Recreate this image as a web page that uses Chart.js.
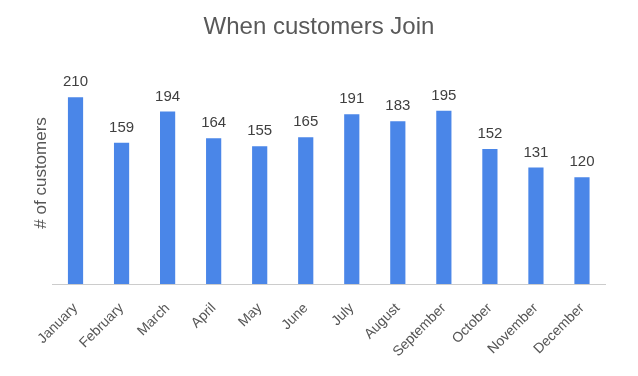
<!DOCTYPE html>
<html>
<head>
<meta charset="utf-8">
<title>When customers Join</title>
<script src="https://cdn.jsdelivr.net/npm/chart.js@4"></script>
<style>
    html, body { margin: 0; padding: 0; background: #fff; }
    canvas { display: block; }
</style>
</head>
<body>
<canvas id="chart" width="638" height="376"></canvas>
<script>
// Dados do gráfico
const months = ['January', 'February', 'March', 'April', 'May', 'June',
    'July', 'August', 'September', 'October', 'November', 'December'];
const customers = [210, 159, 194, 164, 155, 165, 191, 183, 195, 152, 131, 120];
const chartTitle = 'When customers Join';
const yTitle = '# of customers';

const fontFamily = '"Liberation Sans", Arial, sans-serif';

// Rótulos de valor acima das barras
const barLabels = {
    id: 'barLabels',
    afterDatasetsDraw(chart) {
        const ctx = chart.ctx;
        const meta = chart.getDatasetMeta(0);
        ctx.save();
        ctx.font = '15px ' + fontFamily;
        ctx.fillStyle = '#404040';
        ctx.textAlign = 'center';
        ctx.textBaseline = 'alphabetic';
        meta.data.forEach((bar, i) => {
            ctx.fillText(String(chart.data.datasets[0].data[i]), bar.x, bar.y - 11);
        });
        ctx.restore();
    }
};

new Chart(document.getElementById('chart'), {
    type: 'bar',
    data: {
        labels: months,
        datasets: [{
            data: customers,
            backgroundColor: '#4a86e8',
            borderWidth: 0,
            categoryPercentage: 1,
            barPercentage: 0.33
        }]
    },
    options: {
        responsive: false,
        animation: false,
        layout: { padding: 0 },
        plugins: {
            legend: { display: false },
            tooltip: { enabled: false },
            title: {
                display: true,
                text: chartTitle,
                color: '#595959',
                font: { family: fontFamily, size: 24, weight: 'normal' },
                padding: { top: 13, bottom: 20 }
            }
        },
        scales: {
            x: {
                grid: { display: false },
                border: { display: true, color: '#cccccc', width: 1 },
                ticks: {
                    autoSkip: false,
                    maxRotation: 45,
                    minRotation: 45,
                    padding: 8,
                    color: '#555555',
                    font: { family: fontFamily, size: 14 }
                },
                afterFit(scale) { scale.height = 92; }
            },
            y: {
                min: 0,
                max: 250,
                grid: { display: false },
                border: { display: false },
                ticks: { display: false },
                title: {
                    display: true,
                    text: yTitle,
                    color: '#555555',
                    font: { family: fontFamily, size: 17 },
                    padding: { top: 31, bottom: 0 }
                },
                afterFit(scale) { scale.width = 52.5; }
            },
            // espaço vazio à direita
            yRight: {
                position: 'right',
                grid: { display: false },
                border: { display: false },
                ticks: { display: false },
                afterFit(scale) { scale.width = 33; }
            }
        }
    },
    plugins: [barLabels]
});
</script>
</body>
</html>
